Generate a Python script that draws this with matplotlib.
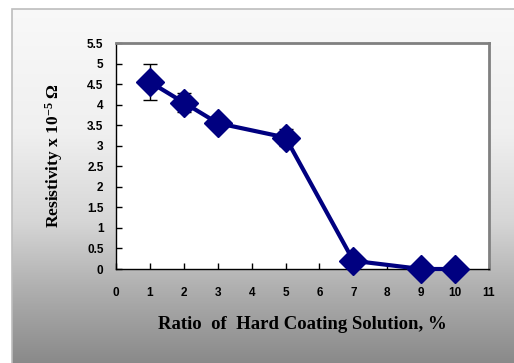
import numpy as np
import matplotlib
matplotlib.use("Agg")
import matplotlib.pyplot as plt
from matplotlib.patches import Rectangle

plt.rcParams["mathtext.fontset"] = "custom"
plt.rcParams["mathtext.rm"] = "Liberation Serif:bold"
plt.rcParams["mathtext.it"] = "Liberation Serif:bold"
plt.rcParams["mathtext.bf"] = "Liberation Serif:bold"

x_vals = [1, 2, 3, 5, 7, 9, 10]
resistivity = [4.55, 4.05, 3.55, 3.2, 0.2, 0.0, 0.0]
errors = [0.44, 0.23, 0.15, 0.21, 0.0, 0.0, 0.0]
x_ticks = list(range(0, 12))
y_ticks = [0, 0.5, 1, 1.5, 2, 2.5, 3, 3.5, 4, 4.5, 5, 5.5]
y_tick_labels = ["0", "0.5", "1", "1.5", "2", "2.5", "3", "3.5", "4", "4.5", "5", "5.5"]

W, H = 514, 363
fig = plt.figure(figsize=(W / 100, H / 100), dpi=100)
fig.patch.set_facecolor("white")

# background gradient panel
bg = fig.add_axes([12 / W, 0, 1 - 12 / W, 1 - 9 / H])
bg.set_axis_off()
rows = np.linspace(0, 1, 300)
stops_y = [0.0, 0.35, 0.6, 0.8, 1.0]
stops_v = [0.975, 0.94, 0.84, 0.68, 0.54]
vals = np.interp(rows, stops_y, stops_v)
img = np.repeat(vals[:, None], 2, axis=1)
bg.imshow(np.dstack([img, img, img]), aspect="auto", extent=[0, 1, 1, 0])
bg.set_xlim(0, 1)
bg.set_ylim(1, 0)
fig.add_artist(Rectangle((12 / W, -0.01), 1, 1 - 9 / H + 0.01, transform=fig.transFigure,
                         fill=False, edgecolor="#bdbdbd", lw=1.2))

left, right, top, bottom = 116, 489, 43, 269
ax = fig.add_axes([left / W, 1 - bottom / H, (right - left) / W, (bottom - top) / H])
ax.set_facecolor("white")
ax.set_xlim(0, 11)
ax.set_ylim(0, 5.5)

ax.errorbar(x_vals, resistivity, yerr=errors, fmt="none", ecolor="black",
            elinewidth=1.0, capsize=5, capthick=1.0, zorder=2)
ax.plot(x_vals, resistivity, color="#000080", lw=3, marker="D", markersize=14,
        markerfacecolor="#000080", markeredgecolor="#000080", zorder=3, clip_on=False)

for s in ["top", "right"]:
    ax.spines[s].set_color("#808080")
    ax.spines[s].set_linewidth(2)
for s in ["left", "bottom"]:
    ax.spines[s].set_color("black")
    ax.spines[s].set_linewidth(1)

ax.set_xticks(x_ticks)
ax.set_xticklabels([str(t) for t in x_ticks])
ax.set_yticks(y_ticks)
ax.set_yticklabels(y_tick_labels)
ax.tick_params(direction="in", length=4, width=1, colors="black", labelsize=8.5)
ax.tick_params(axis="x", pad=13)
ax.tick_params(axis="y", pad=9)
for lab in ax.get_xticklabels() + ax.get_yticklabels():
    lab.set_fontfamily("Liberation Sans")
    lab.set_fontweight("bold")

ax.set_xlabel("Ratio  of  Hard Coating Solution, %", fontfamily="Liberation Serif",
              fontweight="bold", fontsize=13.5, labelpad=12)
ax.set_ylabel("Resistivity x 10$^{-5}$ Ω", fontfamily="Liberation Serif",
              fontweight="bold", fontsize=12.5, labelpad=16)

fig.savefig("out.png", dpi=100, facecolor=fig.get_facecolor())
